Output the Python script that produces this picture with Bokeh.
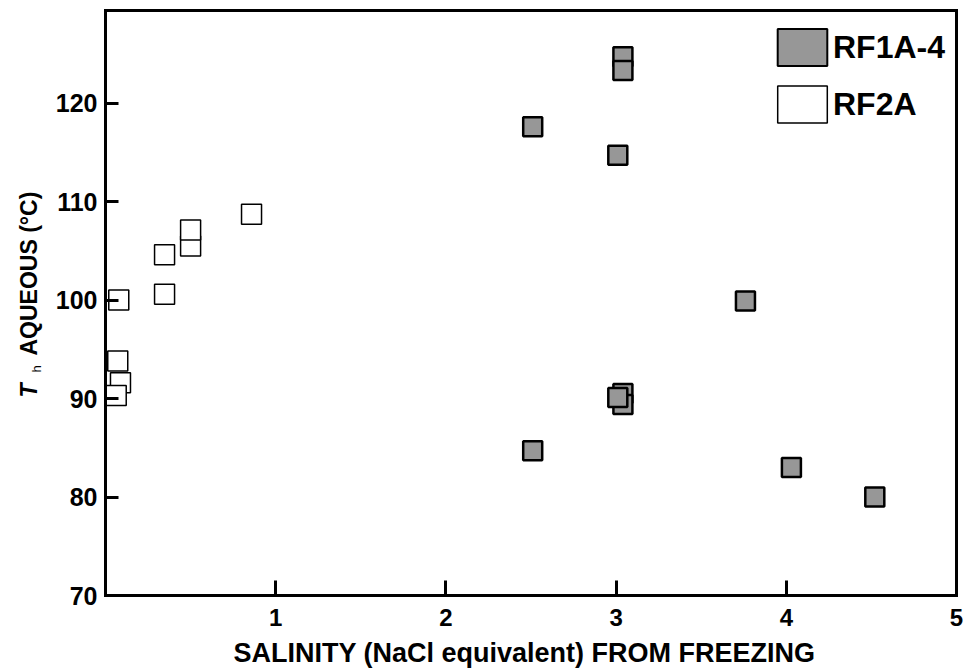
import math
from bokeh.plotting import figure
from bokeh.models import FixedTicker, Label, Legend, LegendItem, Range1d
from bokeh.embed import file_html
from bokeh.resources import INLINE

# RF1A-4 (grey squares)
rf1_salinity = [2.51, 3.01, 3.04, 3.04, 3.76, 2.51, 4.03, 4.52, 3.04, 3.04, 3.01]
rf1_th = [117.6, 114.7, 124.7, 123.3, 99.9, 84.7, 83.0, 80.0, 90.5, 89.4, 90.1]

# RF2A (open squares)
rf2_salinity = [0.078, 0.347, 0.347, 0.50, 0.50, 0.858, 0.072, 0.088, 0.063]
rf2_th = [100.0, 104.6, 100.6, 105.5, 107.1, 108.7, 93.8, 91.6, 90.3]

x_ticks = [1, 2, 3, 4, 5]
y_ticks = [70, 80, 90, 100, 110, 120]
X_MIN, X_MAX = 0, 5
Y_MIN, Y_MAX = 70, 129.4

FONT = "Liberation Sans"
GREY = "#979797"

# layout (pixels); the frame covers the whole canvas, the axes box is drawn inside it
W, H = 965, 672
AX_L, AX_R, AX_T, AX_B = 105, 956, 10, 595
ppu_x = (AX_R - AX_L) / (X_MAX - X_MIN)
ppu_y = (AX_B - AX_T) / (Y_MAX - Y_MIN)


def px2x(px):
    return X_MIN + (px - AX_L) / ppu_x


def py2y(py):
    return Y_MIN + (AX_B - py) / ppu_y


p = figure(width=W, height=H, x_range=Range1d(px2x(0), px2x(W)), y_range=Range1d(py2y(H), py2y(0)),
           output_backend="svg", toolbar_location=None,
           min_border_left=0, min_border_right=0, min_border_top=0, min_border_bottom=0)
p.grid.visible = False
p.outline_line_color = None
p.background_fill_color = "white"
p.border_fill_color = "white"

for ax in (p.xaxis[0], p.yaxis[0]):
    ax.axis_line_color = None
    ax.major_tick_line_width = 3
    ax.major_tick_out = 0
    ax.minor_tick_line_color = None
    ax.major_label_text_font = FONT
    ax.major_label_text_font_style = "bold"
    ax.major_label_text_color = "black"

p.xaxis.fixed_location = Y_MIN
p.xaxis.bounds = (X_MIN, X_MAX)
p.xaxis.ticker = FixedTicker(ticks=x_ticks)
p.xaxis.major_tick_in = 15
p.xaxis.major_label_text_font_size = "24px"
p.xaxis.major_label_standoff = 13

p.yaxis.fixed_location = X_MIN
p.yaxis.bounds = (Y_MIN, Y_MAX)
p.yaxis.ticker = FixedTicker(ticks=y_ticks)
p.yaxis.major_tick_in = 13
p.yaxis.major_label_text_font_size = "25px"
p.yaxis.major_label_standoff = 8

# axis titles
p.add_layout(Label(x=px2x(524), y=py2y(652), text="SALINITY (NaCl equivalent) FROM FREEZING",
                   text_font=FONT, text_font_style="bold", text_font_size="27px",
                   text_align="center", text_baseline="middle", text_color="black"))
p.add_layout(Label(x=px2x(28.5), y=py2y(397), text="T", angle=math.pi / 2,
                   text_font=FONT, text_font_style="bold italic", text_font_size="23px",
                   text_align="left", text_baseline="middle", text_color="black"))
p.add_layout(Label(x=px2x(36), y=py2y(372), text="h", angle=math.pi / 2,
                   text_font=FONT, text_font_style="normal", text_font_size="13px",
                   text_align="left", text_baseline="middle", text_color="black"))
p.add_layout(Label(x=px2x(28.5), y=py2y(355), text="AQUEOUS (°C)", angle=math.pi / 2,
                   text_font=FONT, text_font_style="bold", text_font_size="23px",
                   text_align="left", text_baseline="middle", text_color="black"))

p.scatter(rf2_salinity, rf2_th, marker="square", size=20, fill_color="white",
          line_color="black", line_width=1.5)
p.scatter(rf1_salinity, rf1_th, marker="square", size=19, fill_color=GREY,
          line_color="black", line_width=2.5)

# axes box (bottom, top, left, right)
p.segment(x0=[X_MIN, X_MIN, X_MIN, X_MAX], y0=[Y_MIN, Y_MAX, Y_MIN, Y_MIN],
          x1=[X_MAX, X_MAX, X_MIN, X_MAX], y1=[Y_MIN, Y_MAX, Y_MAX, Y_MAX],
          line_color="black", line_width=3, line_cap="square")

# legend swatches (hidden renderers, shown only in the legend)
q1 = p.quad(left=rf1_salinity[:1], right=rf1_salinity[:1], top=rf1_th[:1], bottom=rf1_th[:1],
            fill_color=GREY, line_color="black", line_width=2, visible=False)
q2 = p.quad(left=rf2_salinity[:1], right=rf2_salinity[:1], top=rf2_th[:1], bottom=rf2_th[:1],
            fill_color="white", line_color="black", line_width=1.5, visible=False)
legend = Legend(items=[LegendItem(label="RF1A-4", renderers=[q1]),
                       LegendItem(label="RF2A", renderers=[q2])],
                location=(771, 545), glyph_width=62, glyph_height=46, spacing=11,
                padding=0, margin=0, label_standoff=-3,
                label_text_font=FONT, label_text_font_style="bold", label_text_font_size="32px",
                label_text_color="black", inactive_fill_alpha=0,
                border_line_alpha=0, background_fill_alpha=0)
p.add_layout(legend)

open("out.html", "w").write(file_html(p, INLINE))
